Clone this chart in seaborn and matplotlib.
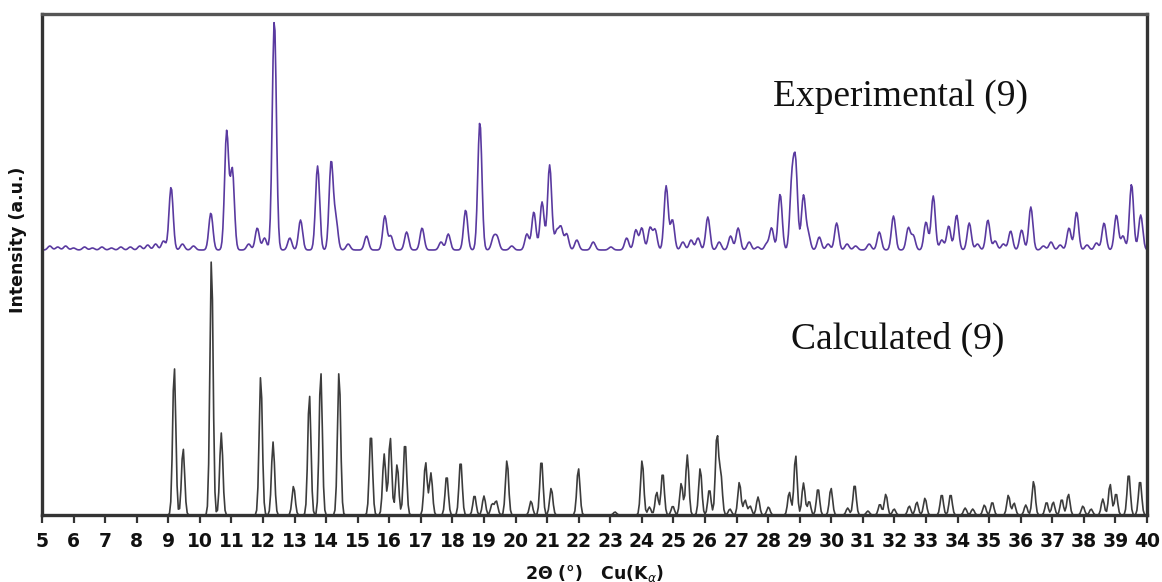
import numpy as np
import pandas as pd
import matplotlib
matplotlib.use("Agg")
import matplotlib.pyplot as plt
import seaborn as sns

# Peak positions (2θ, degrees) and intensities (a.u.) of the measured pattern
exp_pos = [5.25, 5.5, 5.75, 6.0, 6.35, 6.6, 6.9, 7.2, 7.5, 7.8, 8.1, 8.35, 8.6, 8.85,
           9.09, 9.45, 9.8, 10.35, 10.85, 11.03, 11.55, 11.82, 12.05, 12.36, 12.85, 13.19,
           13.73, 14.16, 14.31, 14.7, 15.28, 15.86, 16.05, 16.55, 17.04, 17.64, 17.87,
           18.42, 18.87, 19.30, 19.42, 19.88, 20.36, 20.58, 20.84, 21.08, 21.30, 21.44,
           21.62, 21.94, 22.46, 23.02, 23.52, 23.81, 24.0, 24.26, 24.42, 24.77, 24.97,
           25.30, 25.56, 25.78, 26.09, 26.45, 26.81, 27.05, 27.40, 27.67, 27.95, 28.11,
           28.38, 28.75, 28.87, 29.12, 29.27, 29.62, 29.90, 30.17, 30.50, 30.77, 31.20,
           31.52, 31.97, 32.44, 32.60, 33.00, 33.23, 33.50, 33.72, 33.97, 34.37, 34.63,
           34.96, 35.19, 35.45, 35.68, 36.03, 36.32, 36.72, 36.96, 37.25, 37.53, 37.77,
           38.10, 38.40, 38.64, 39.03, 39.24, 39.51, 39.80]
exp_int = [4, 3, 4, 2, 3, 2, 3, 2, 3, 3, 4, 5, 6, 9,
           63, 6, 4, 37, 118, 80, 6, 22, 12, 230, 12, 30,
           84, 88, 30, 6, 14, 34, 14, 18, 22, 8, 16,
           40, 128, 12, 12, 4, 16, 38, 48, 85, 18, 22,
           16, 10, 8, 3, 12, 20, 22, 22, 20, 64, 30,
           8, 10, 12, 33, 8, 14, 22, 8, 3, 6, 22,
           56, 64, 82, 54, 16, 13, 6, 27, 6, 4, 6,
           18, 34, 22, 14, 28, 54, 10, 24, 35, 27, 6,
           30, 9, 6, 19, 20, 43, 4, 8, 5, 22, 38,
           5, 7, 27, 35, 14, 66, 35]

# Peak positions and intensities of the pattern calculated from the crystal structure
calc_pos = [9.19, 9.47, 10.37, 10.68, 11.93, 12.32, 12.97, 13.47, 13.83, 14.41,
            15.42, 15.84, 16.03, 16.25, 16.50, 17.15, 17.32, 17.82, 18.26, 18.70,
            19.00, 19.26, 19.39, 19.73, 20.49, 20.82, 21.13, 21.99, 23.15,
            24.01, 24.24, 24.47, 24.66, 24.98, 25.25, 25.44, 25.85, 26.14, 26.38,
            26.50, 26.79, 27.09, 27.27, 27.43, 27.68, 28.01, 28.67, 28.87, 29.12,
            29.30, 29.58, 29.99, 30.52, 30.74, 31.16, 31.54, 31.73, 31.99, 32.47,
            32.71, 32.97, 33.50, 33.78, 34.24, 34.48, 34.85, 35.10, 35.61, 35.79,
            36.16, 36.41, 36.82, 37.03, 37.30, 37.51, 37.97, 38.23, 38.60, 38.83,
            39.02, 39.42, 39.78]
calc_int = [149, 67, 258, 82, 140, 73, 29, 121, 144, 144,
            83, 61, 78, 51, 74, 53, 42, 40, 55, 20,
            19, 11, 14, 55, 14, 56, 27, 47, 3,
            55, 8, 23, 43, 9, 32, 60, 47, 26, 80,
            40, 6, 33, 15, 9, 18, 8, 23, 60, 32,
            14, 27, 27, 7, 31, 4, 11, 21, 6, 9,
            13, 17, 21, 21, 7, 6, 10, 13, 20, 12,
            10, 34, 13, 13, 16, 21, 9, 6, 16, 31,
            22, 42, 35]

EXP_OFFSET = 265


def profile(grid, positions, heights, sigma):
    pos = np.asarray(positions)[:, None]
    amp = np.asarray(heights)[:, None]
    return (amp * np.exp(-0.5 * ((grid[None, :] - pos) / sigma) ** 2)).sum(axis=0)


grid_exp = np.arange(5.0, 40.0001, 0.03)
grid_calc = np.arange(5.0, 40.0001, 0.04)

exp_df = pd.DataFrame({"two_theta": grid_exp,
                       "intensity": EXP_OFFSET + profile(grid_exp, exp_pos, exp_int, 0.065)})
calc_df = pd.DataFrame({"two_theta": grid_calc,
                        "intensity": profile(grid_calc, calc_pos, calc_int, 0.05)})

sns.set_theme(style="white")
plt.rcParams["font.family"] = ["DejaVu Sans"]

fig = plt.figure(figsize=(11.62, 5.82), dpi=100)
ax = fig.add_axes([0.0361, 0.1151, 0.9510, 0.8609])

sns.lineplot(data=exp_df, x="two_theta", y="intensity", ax=ax,
             color="#5a3aa0", linewidth=1.2, estimator=None, sort=False)
sns.lineplot(data=calc_df, x="two_theta", y="intensity", ax=ax,
             color="#3c3c3c", linewidth=1.2, estimator=None, sort=False)

ax.set_xlim(5, 40)
ax.set_ylim(0, 501)
ax.set_xticks(np.arange(5, 41, 1))
ax.set_yticks([])
ax.tick_params(axis="x", direction="out", length=6, width=1.6, color="#333333",
               labelsize=13.5, labelcolor="#111111", pad=6, bottom=True, top=False)
for lab in ax.get_xticklabels():
    lab.set_fontweight("bold")

for side, sp in ax.spines.items():
    sp.set_visible(True)
    sp.set_linewidth(2.4)
    sp.set_color("#333333")
ax.spines["top"].set_color("#555555")

ax.set_xlabel("2\u0398 (\u00b0)   Cu(K$_\\alpha$)", fontsize=12.5, fontweight="bold",
              color="#111111")
ax.xaxis.set_label_coords(0.5, -0.095)
ax.set_ylabel("Intensity (a.u.)", fontsize=12.5, fontweight="bold", color="#111111")
ax.yaxis.set_label_coords(-0.0136, 0.55)

ax.text(32.2, 418, "Experimental (9)", fontsize=27, ha="center", va="center",
        family="Liberation Serif", color="#111111")
ax.text(32.1, 176, "Calculated (9)", fontsize=27, ha="center", va="center",
        family="Liberation Serif", color="#111111")

fig.savefig("out.png", dpi=100)
